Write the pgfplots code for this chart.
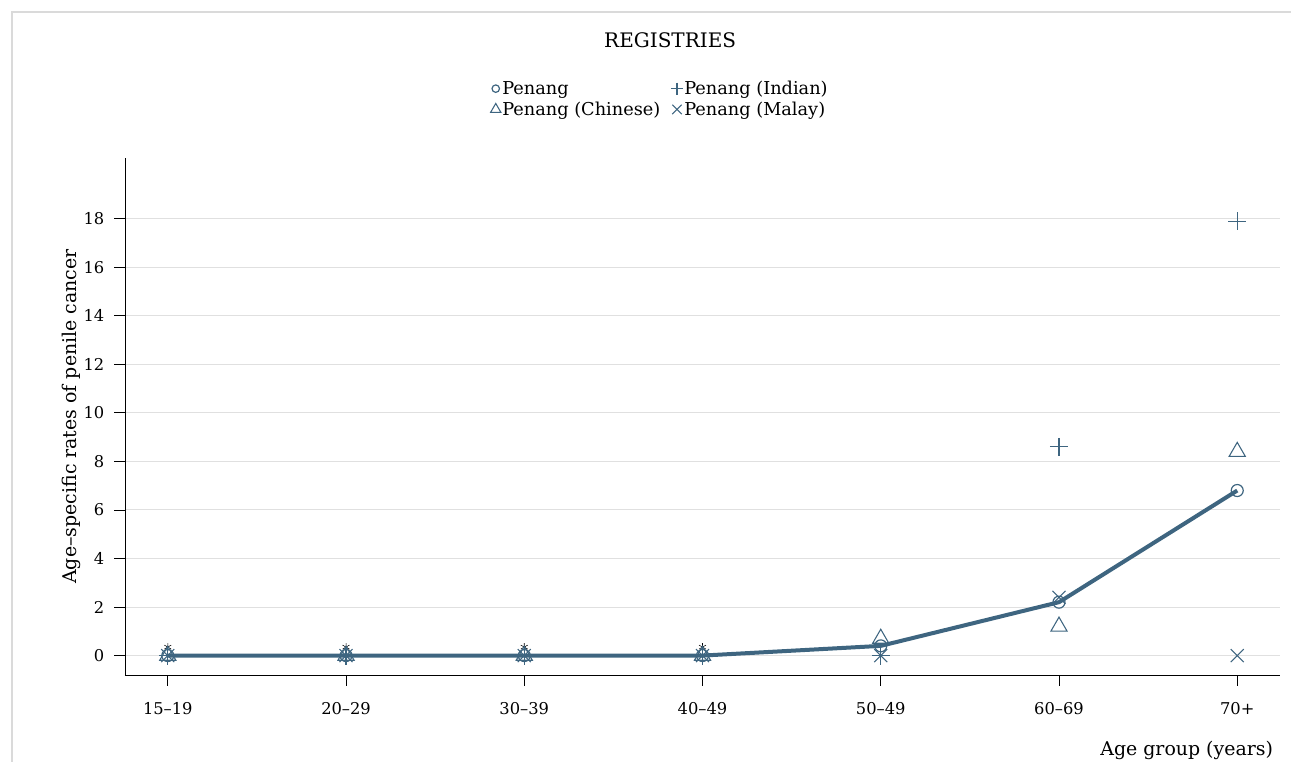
\documentclass[border=0pt]{standalone}
\usepackage{pgfplots}
\pgfplotsset{compat=1.18}
\usepackage{fontspec}
\setmainfont{DejaVu Serif}
\definecolor{sb}{RGB}{62,101,128}
\definecolor{gridc}{RGB}{224,224,224}
\definecolor{framec}{RGB}{218,218,218}
\pgfplotsset{legmark/.style={legend image code/.code={\draw[##1,mark size=#1] plot coordinates {(0.12cm,0.0cm)};}}}
\begin{document}
\begin{tikzpicture}
\useasboundingbox (-93.75pt,-65.25pt) rectangle (874.5pt,506.25pt);
\draw[line width=2.2pt, framec] (-84.75pt,-70pt) -- (-84.75pt,497.25pt) -- (880pt,497.25pt);
\begin{axis}[
  scale only axis,
  width=866.25pt, height=387.75pt,
  xmin=-0.24, xmax=6.24, ymin=-0.8, ymax=20.5,
  axis x line*=bottom, axis y line*=left,
  axis line style={line width=0.6pt, -},
  xtick={0,1,2,3,4,5,6},
  xticklabels={15--19,20--29,30--39,40--49,50--49,60--69,70+},
  ytick={0,2,...,18},
  tick align=outside,
  major tick length=8pt,
  tick style={line width=0.6pt, black},
  ymajorgrids, grid style={gridc, line width=0.8pt},
  /pgf/number format/assume math mode=true,
  ticklabel style={font=\fontsize{12.2}{14}\selectfont},
  xticklabel style={yshift=-9pt},
  yticklabel style={xshift=-4pt},
  ylabel={Age--specific rates of penile cancer},
  ylabel style={at={(axis description cs:-0.046,0.5)}, anchor=center, font=\fontsize{14.2}{16}\selectfont},
  xlabel={Age group (years)},
  xlabel style={at={(axis description cs:0.998,-0.145)}, anchor=east, font=\fontsize{14.2}{16}\selectfont},
  every axis title shift=0pt,
  title={REGISTRIES},
  title style={at={(axis description cs:0.472,1.213)}, anchor=base, font=\fontsize{15}{17}\selectfont},
  legend columns=2,
  legend style={at={(axis description cs:0.463,1.114)}, anchor=center, draw=none, fill=none,
    font=\fontsize{13.3}{15}\selectfont, row sep=2pt, inner sep=0pt,
    nodes={inner sep=1pt},
    /tikz/every odd column/.append style={column sep=0pt},
    /tikz/every even column/.append style={column sep=7pt}},
  legend cell align=left,
]
% Penang line
\addplot[sb, line width=3pt, forget plot] coordinates {(0,0) (1,0) (2,0) (3,0) (4,0.4) (5,2.2) (6,6.8)};
% extra black asterisks
\addplot[only marks, mark=asterisk, mark size=3pt, black, forget plot] coordinates {(0,0.35) (1,0.35) (2,0.35) (3,0.35)};
% Penang
\addplot[only marks, sb, mark=o, mark size=4.5pt, mark options={line width=0.9pt}, legmark=2.8pt]
  coordinates {(0,0) (1,0) (2,0) (3,0) (4,0.4) (5,2.2) (6,6.8)};
\addlegendentry{Penang}
% Indian
\addplot[only marks, sb, mark=+, mark size=6.75pt, mark options={line width=0.8pt}, legmark=4.5pt]
  coordinates {(0,0) (1,0) (2,0) (3,0) (4,0) (5,8.6) (6,17.9)};
\addlegendentry{Penang (Indian)}
% Chinese
\addplot[only marks, sb, mark=triangle, mark size=7pt, mark options={line width=0.8pt}, legmark=4.5pt]
  coordinates {(0,0) (1,0) (2,0) (3,0) (4,0.7) (5,1.2) (6,8.4)};
\addlegendentry{Penang (Chinese)}
% Malay
\addplot[only marks, sb, mark=x, mark size=6.9pt, mark options={line width=0.8pt}, legmark=5pt]
  coordinates {(0,0) (1,0) (2,0) (3,0) (4,0) (5,2.4) (6,0)};
\addlegendentry{Penang (Malay)}
\end{axis}
\end{tikzpicture}
\end{document}
